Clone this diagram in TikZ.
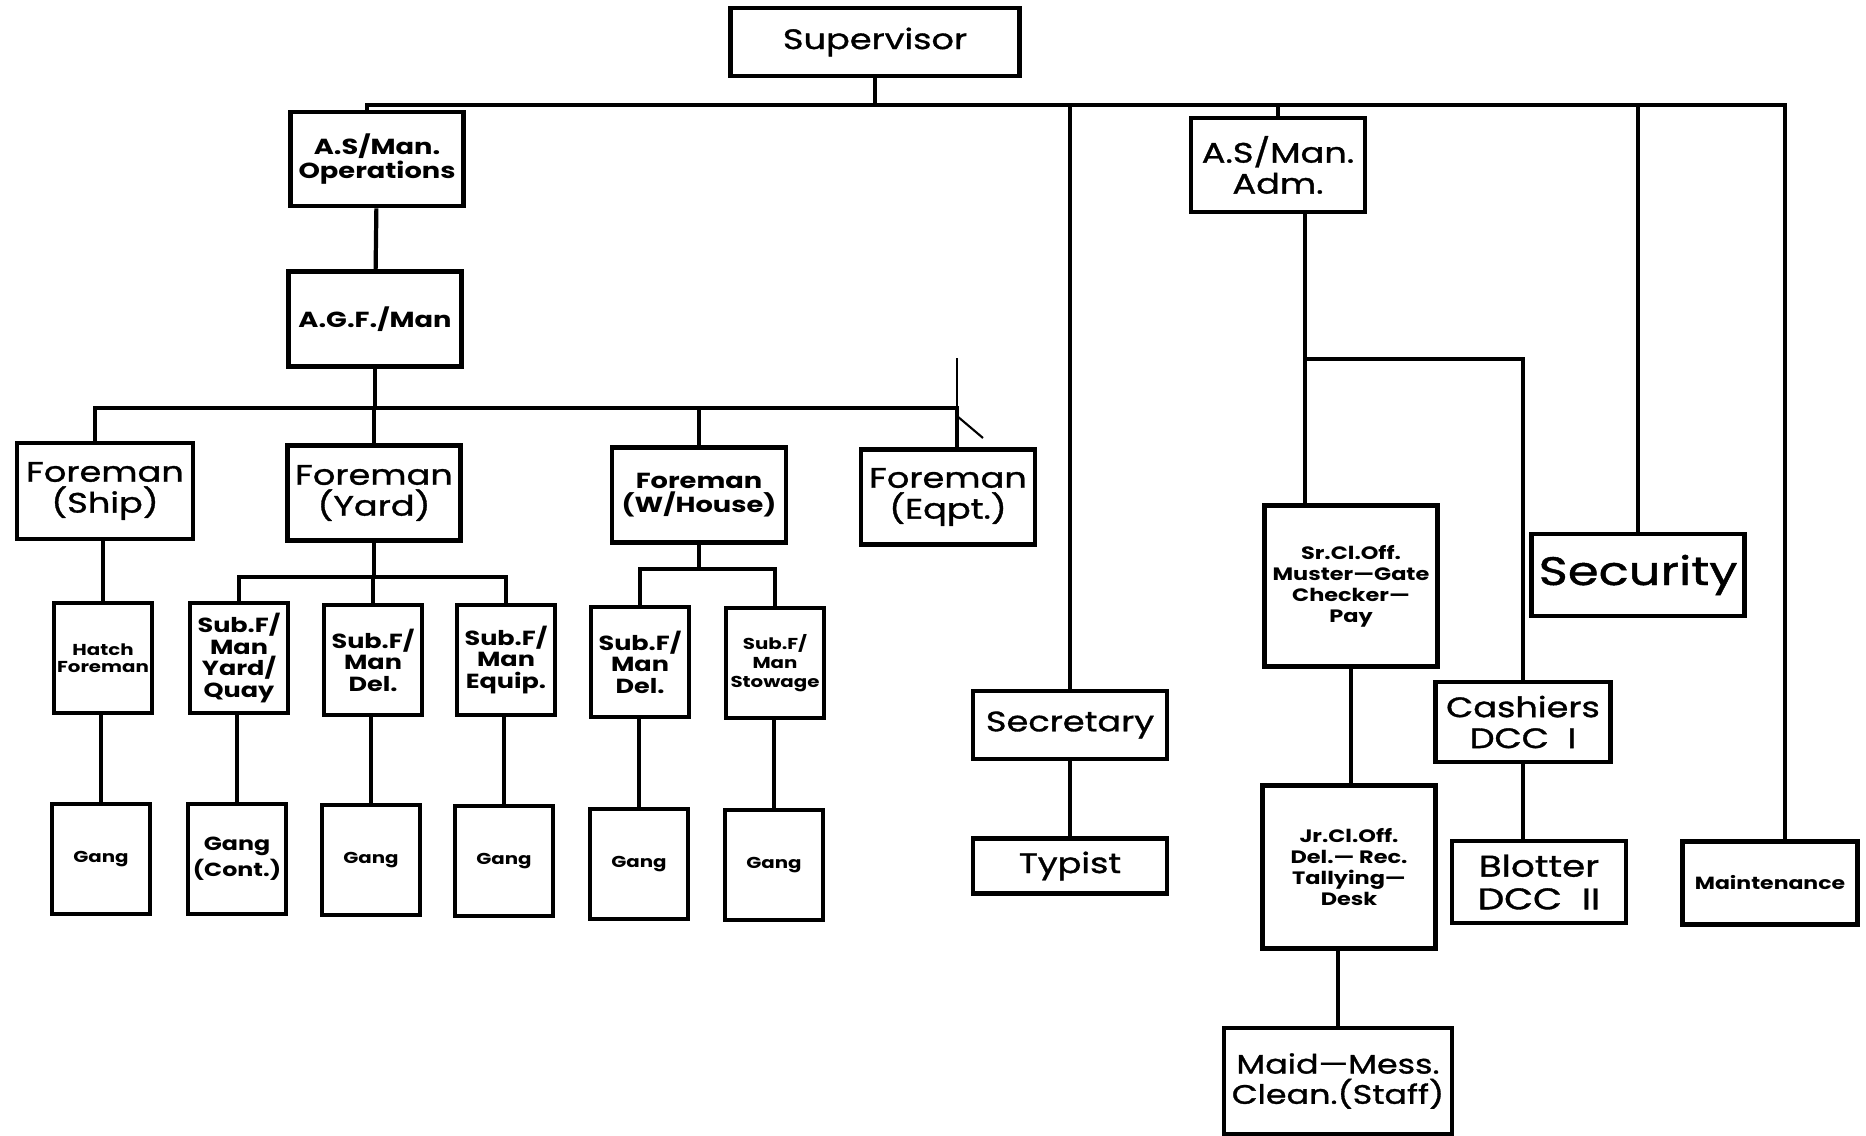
\documentclass[tikz,border=0pt]{standalone}
\usepackage{fontspec}
\setmainfont{Poppins}[FakeStretch=1.25]
\newfontfamily\medfont{Poppins}[FakeStretch=1.25, FakeBold=1.2]
\usetikzlibrary{positioning}

% text sizes
\newcommand{\hugetxt}{\medfont\fontsize{11.3}{13}\selectfont}
\newcommand{\bigtxt}{\medfont\fontsize{8}{8.8}\selectfont}
\newcommand{\midtxt}{\bfseries\fontsize{6.2}{7}\selectfont}
\newcommand{\smalltxt}{\bfseries\fontsize{5.8}{6.1}\selectfont}
\newcommand{\tinytxt}{\bfseries\fontsize{4.5}{5}\selectfont}

\tikzset{
  box/.style={draw, line width=1.3pt, inner sep=0pt, align=center},
  link/.style={line width=1.2pt},
  bigbox/.style={box, font=\bigtxt},
  midbox/.style={box, font=\midtxt},
  subbox/.style={box, font=\smalltxt, minimum width=0.98cm, minimum height=1.1cm},
  gangbox/.style={box, font=\tinytxt, minimum width=0.98cm, minimum height=1.1cm},
}

\begin{document}
\begin{tikzpicture}[x=0.01cm, y=-0.01cm]
\useasboundingbox (0,0) rectangle (1866,1136);

% Top
\node[bigbox, minimum width=2.89cm, minimum height=0.68cm] (sup) at (875,42) {Supervisor};

% Operations branch
\node[midbox, minimum width=1.73cm, minimum height=0.94cm] (ops) at (377,159) {A.S/Man.\\Operations};
\node[midbox, minimum width=1.73cm, minimum height=0.95cm] (agf) at (375,319) {A.G.F./Man};

\node[bigbox, minimum width=1.76cm, minimum height=0.96cm] (ship) at (105,491) {Foreman\\(Ship)};
\node[bigbox, minimum width=1.73cm, minimum height=0.95cm] (fyard) at (374,493) {Foreman\\(Yard)};
\node[midbox, minimum width=1.74cm, minimum height=0.95cm] (fwh) at (699,495) {Foreman\\(W/House)};
\node[bigbox, minimum width=1.74cm, minimum height=0.95cm] (feqp) at (948,497) {Foreman\\(Eqpt.)};

\node[gangbox] (hatch) at (103,658) {Hatch\\Foreman};
\node[subbox] (subyq) at (239,658) {Sub.F/\\Man\\Yard/\\Quay};
\node[subbox] (subdel) at (373,660) {Sub.F/\\Man\\Del.};
\node[subbox] (subeq) at (506,660) {Sub.F/\\Man\\Equip.};
\node[subbox] (subdelw) at (640,662) {Sub.F/\\Man\\Del.};
\node[gangbox, font=\bfseries\fontsize{4.5}{5.4}\selectfont] (substow) at (775,663) {Sub.F/\\Man\\Stowage};

\node[gangbox] (gang1) at (101,859) {Gang};
\node[gangbox, font=\bfseries\fontsize{5.4}{6}\selectfont] (gang2) at (237,859) {Gang\\(Cont.)};
\node[gangbox] (gang3) at (371,860) {Gang};
\node[gangbox] (gang4) at (504,861) {Gang};
\node[gangbox] (gang5) at (639,864) {Gang};
\node[gangbox] (gang6) at (774,865) {Gang};

% Office branch
\node[bigbox, minimum width=1.94cm, minimum height=0.68cm] (secr) at (1070,725) {Secretary};
\node[bigbox, minimum width=1.94cm, minimum height=0.55cm] (typ) at (1070,866) {Typist};

\node[bigbox, minimum width=1.74cm, minimum height=0.94cm] (adm) at (1278,165) {A.S/Man.\\Adm.};
\node[box, font=\bfseries\fontsize{5.1}{6}\selectfont, minimum width=1.73cm, minimum height=1.61cm] (sr) at (1351,586) {Sr.Cl.Off.\\Muster—Gate\\Checker—\\Pay};
\node[box, font=\bfseries\fontsize{5.1}{6}\selectfont, minimum width=1.73cm, minimum height=1.63cm] (jr) at (1349,867) {Jr.Cl.Off.\\Del.— Rec.\\Tallying—\\Desk};
\node[bigbox, font=\medfont\fontsize{7.6}{8.6}\selectfont, minimum width=2.28cm, minimum height=1.06cm] (maid) at (1338,1081) {Maid—Mess.\\Clean.(Staff)};
\node[bigbox, minimum width=1.75cm, minimum height=0.80cm] (cash) at (1523,722) {Cashiers\\DCC\ \ I};
\node[bigbox, font=\medfont\fontsize{8.5}{9.3}\selectfont, minimum width=1.74cm, minimum height=0.82cm] (blot) at (1539,882) {Blotter\\DCC\ \ II};
\node[box, font=\hugetxt, minimum width=2.13cm, minimum height=0.82cm] (secu) at (1638,575) {Security};
\node[box, font=\bfseries\fontsize{5}{6}\selectfont, minimum width=1.75cm, minimum height=0.83cm] (maint) at (1770,883) {Maintenance};

% Bus lines
\coordinate (bus1) at (0,105);
\coordinate (bus2) at (0,408);
\coordinate (bus3) at (0,577);
\coordinate (bus4) at (0,569);
\coordinate (bus5) at (0,359);
\coordinate (admx) at (1305,0);

% Supervisor to the heads
\draw[link] (sup.south) -- (sup.south |- bus1);
\draw[link] ([xshift=-0.1cm]ops.north) |- ([xshift=0.15cm]maint.north |- bus1) -- ([xshift=0.15cm]maint.north);
\draw[link] (secr.north) -- (secr.north |- bus1);
\draw[link] (adm.north) -- (adm.north |- bus1);
\draw[link] (secu.north) -- (secu.north |- bus1);
\draw[link] (ops) -- (agf);

% Foremen
\draw[link] (agf.south) -- (agf.south |- bus2);
\draw[link] ([xshift=-0.1cm]ship.north) |- ([xshift=0.09cm]feqp.north |- bus2) -- ([xshift=0.09cm]feqp.north);
\draw[link] (fyard.north) -- (fyard.north |- bus2);
\draw[link] (fwh.north) -- (fwh.north |- bus2);
\draw[line width=0.7pt] ([xshift=0.09cm]feqp.north |- bus2) -- ++(0,-50);
\draw[line width=0.6pt] ([xshift=0.09cm]feqp.north |- bus2) ++(0,8) -- ++(26,22);

% Sub foremen
\draw[link] (hatch.north) -- (hatch.north |- ship.south);
\draw[link] (fyard.south) -- (fyard.south |- bus3);
\draw[link] (subyq.north) |- (subeq.north |- bus3) -- (subeq.north);
\draw[link] (subdel.north) -- (subdel.north |- bus3);
\draw[link] (fwh.south) -- (fwh.south |- bus4);
\draw[link] (subdelw.north) |- (substow.north |- bus4) -- (substow.north);

% Gangs
\draw[link] (gang1.north) -- (gang1.north |- hatch.south);
\draw[link] (gang2.north) -- (gang2.north |- subyq.south);
\draw[link] (gang3.north) -- (gang3.north |- subdel.south);
\draw[link] (gang4.north) -- (gang4.north |- subeq.south);
\draw[link] (gang5.north) -- (gang5.north |- subdelw.south);
\draw[link] (gang6.north) -- (gang6.north |- substow.south);

% Office
\draw[link] (secr) -- (typ);
\draw[link] (adm.south -| admx) -- (sr.north -| admx);
\draw[link] (admx |- bus5) -| (cash.north);
\draw[link] (sr.south) -- (sr.south |- jr.north);
\draw[link] (maid.north) -- (maid.north |- jr.south);
\draw[link] (cash.south) -- (cash.south |- blot.north);
\end{tikzpicture}
\end{document}
